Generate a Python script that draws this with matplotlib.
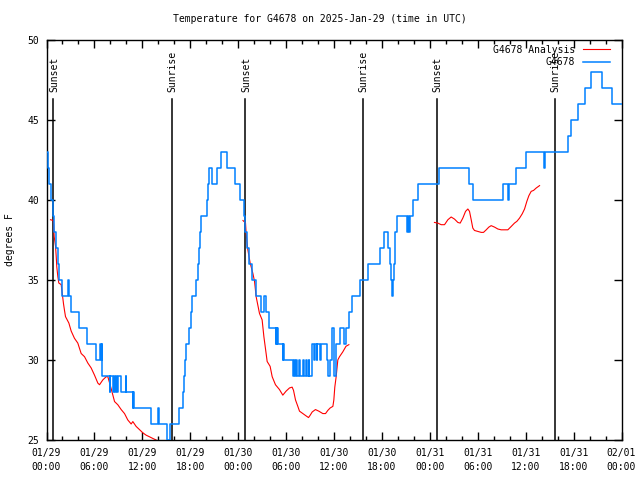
import matplotlib
matplotlib.use("Agg")
import matplotlib.pyplot as plt
from matplotlib.ticker import MultipleLocator

# hours since 2025-01-29 00:00 UTC
obs_hours = [0.0, 0.15, 0.35, 0.6, 0.85, 1.0, 1.2, 1.4, 1.6, 1.95, 2.7, 2.85, 3.1, 4.1, 5.05,
             6.2, 6.75, 6.82, 6.92, 7.0, 7.9, 8.0, 8.3, 8.5, 8.62, 8.72, 8.85, 8.93, 9.35, 9.9,
             10.0, 10.8, 10.88, 10.95, 13.05, 13.9, 14.05, 15.15, 15.45, 16.55, 17.1, 17.2,
             17.36, 17.53, 17.86, 18.07, 18.28, 18.66, 18.95, 19.12, 19.2, 19.37, 20.05, 20.2,
             20.33, 20.78, 21.3, 21.87, 22.55, 23.6, 24.25, 24.7, 24.9, 25.1, 25.3, 25.75, 26.2,
             26.8, 27.25, 27.45, 27.85, 28.7, 28.78, 28.86, 28.92, 29.0, 29.6, 29.65, 29.75,
             30.84, 31.0, 31.08, 31.3, 31.36, 31.62, 31.68, 32.1, 32.3, 32.55, 32.61, 32.85,
             32.91, 33.27, 33.55, 33.61, 33.85, 33.91, 34.3, 34.36, 35.15, 35.3, 35.45, 35.7,
             36.05, 36.2, 36.3, 36.8, 37.3, 37.45, 37.85, 38.3, 39.2, 40.3, 41.75, 42.3, 42.8,
             42.95, 43.1, 43.3, 43.45, 43.5, 43.6, 43.7, 43.85, 45.15, 45.3, 45.4, 45.55, 45.85,
             46.5, 49.2, 52.9, 53.4, 57.2, 57.85, 57.95, 58.75, 60.05, 62.25, 62.45, 65.3, 65.7,
             66.6, 67.4, 68.15, 69.55, 70.8, 72.0]
obs_temps = [43, 42, 41, 40, 39, 38, 37, 36, 35, 34, 35, 34, 33, 32, 31,
             30, 31, 30, 31, 29, 28, 29, 28, 29, 28, 29, 28, 29, 28, 29,
             28, 27, 28, 27, 26, 27, 26, 25, 26, 27, 28, 29,
             30, 31, 32, 33, 34, 35, 36, 37, 38, 39, 40, 41,
             42, 41, 42, 43, 42, 41, 40, 39, 38, 37, 36, 35, 34,
             33, 34, 33, 32, 31, 32, 31, 32, 31, 30, 31, 30,
             29, 30, 29, 30, 29, 30, 29, 30, 29, 30, 29, 30,
             29, 31, 30, 31, 30, 31, 30, 31, 30, 29, 30, 32,
             29, 30, 31, 32, 31, 32, 33, 34, 35, 36, 37, 38, 37,
             36, 35, 34, 35, 36, 37, 38, 39, 38, 39, 38, 39, 40,
             41, 42, 41, 40, 41, 40, 41, 42, 43, 42, 43, 44, 45,
             46, 47, 48, 47, 46, 46]

ana_hours = [
    [0.5, 0.85, 0.9, 0.96, 1.13, 1.21, 1.29, 1.42, 1.54, 1.84, 1.96, 2.13, 2.25, 2.38, 2.8,
     3.09, 3.5, 3.92, 4.34, 4.76, 5.18, 5.59, 6.01, 6.43, 6.64, 7.05, 7.47, 7.68, 8.1, 8.52,
     8.93, 9.35, 9.77, 10.18, 10.6, 10.81, 11.22, 11.64, 12.06, 12.48, 12.9, 13.3, 13.73, 14.0],
    [24.6, 24.92, 25.0, 25.2, 25.5, 25.84, 26.05, 26.25, 26.67, 27.0, 27.22, 27.5, 27.63, 28.0,
     28.26, 28.67, 29.17, 29.59, 30.0, 30.43, 30.76, 30.93, 31.18, 31.47, 31.68, 32.1, 32.52,
     32.81, 33.02, 33.27, 33.68, 34.1, 34.6, 34.94, 35.23, 35.52, 35.86, 35.98, 36.1, 36.27,
     36.48, 36.69, 37.1, 37.5, 37.86],
    [48.58, 49.0, 49.42, 49.84, 50.26, 50.67, 51.09, 51.51, 51.8, 52.13, 52.47, 52.76, 52.97,
     53.18, 53.38, 53.59, 54.01, 54.43, 54.72, 55.06, 55.39, 55.68, 56.1, 56.52, 56.93, 57.77,
     58.19, 58.6, 58.9, 59.23, 59.57, 59.86, 60.15, 60.4, 60.69, 60.99, 61.32, 61.74],
]
ana_temps = [
    [38.75, 38.7, 38.4, 37.7, 37.1, 36.5, 35.8, 35.2, 34.8, 34.7, 34.2, 33.5, 33.1, 32.7, 32.3,
     31.8, 31.35, 31.05, 30.4, 30.2, 29.8, 29.5, 29.05, 28.55, 28.45, 28.75, 28.95, 28.95, 28.2,
     27.4, 27.2, 26.9, 26.65, 26.25, 26.0, 26.15, 25.85, 25.65, 25.45, 25.3, 25.2, 25.1, 25.0,
     24.9],
    [38.7, 38.55, 37.9, 36.9, 36.05, 35.4, 34.9, 33.95, 32.9, 32.5, 31.45, 30.4, 29.9, 29.6,
     28.95, 28.45, 28.15, 27.8, 28.05, 28.25, 28.3, 28.1, 27.5, 27.1, 26.8, 26.65, 26.5, 26.4,
     26.55, 26.75, 26.9, 26.8, 26.65, 26.65, 26.85, 27.0, 27.1, 27.5, 28.3, 28.95, 30.0, 30.2,
     30.5, 30.85, 30.95],
    [38.58, 38.54, 38.44, 38.44, 38.75, 38.92, 38.79, 38.58, 38.54, 38.85, 39.27, 39.42, 39.27,
     38.75, 38.23, 38.08, 38.02, 37.96, 37.96, 38.12, 38.29, 38.38, 38.29, 38.17, 38.12, 38.12,
     38.33, 38.54, 38.65, 38.85, 39.12, 39.42, 39.9, 40.25, 40.52, 40.58, 40.73, 40.88],
]

sun_hours = [0.87, 15.68, 24.85, 39.62, 48.88, 63.65]
sun_labels = ["Sunset", "Sunrise", "Sunset", "Sunrise", "Sunset", "Sunrise"]

xtick_hours = list(range(0, 73, 6))
xtick_labels = ["01/29\n00:00", "01/29\n06:00", "01/29\n12:00", "01/29\n18:00",
                "01/30\n00:00", "01/30\n06:00", "01/30\n12:00", "01/30\n18:00",
                "01/31\n00:00", "01/31\n06:00", "01/31\n12:00", "01/31\n18:00",
                "02/01\n00:00"]

plt.rcParams['font.family'] = ['DejaVu Sans Mono']
plt.rcParams['font.size'] = 7

fig = plt.figure(figsize=(6.4, 4.8), dpi=100)
ax = fig.add_axes([46.5 / 640, 40 / 480, 575 / 640, 400.5 / 480])

# sunrise / sunset markers
for h, lab in zip(sun_hours, sun_labels):
    ax.plot([h, h], [25, 46.3], color='black', lw=1.1, zorder=1)
    ax.text(h + 0.12, 46.7, lab, rotation=90, ha='center', va='bottom', fontsize=7)

for i, (hh, tt) in enumerate(zip(ana_hours, ana_temps)):
    ax.plot(hh, tt, color='#ff0000', lw=0.8, zorder=2,
            label="G4678 Analysis" if i == 0 else None)
ax.plot(obs_hours, obs_temps, color='#0080ff', lw=1.1, drawstyle='steps-post', zorder=3,
        label="G4678")

ax.set_xlim(0, 72)
ax.set_ylim(25, 50)
ax.set_xticks(xtick_hours)
ax.set_xticklabels(xtick_labels, linespacing=1.45)
ax.xaxis.set_minor_locator(MultipleLocator(2))
ax.set_yticks([25, 30, 35, 40, 45, 50])
ax.tick_params(which='both', direction='in', top=True, right=True, width=1)
ax.tick_params(which='major', length=6)
ax.tick_params(which='minor', length=3)
ax.tick_params(axis='x', pad=6)
ax.tick_params(axis='y', pad=5)
for s in ax.spines.values():
    s.set_linewidth(1)

ax.set_ylabel("degrees F")
ax.yaxis.set_label_coords(-0.055, 0.5)
fig.text(0.5, 1 - 19 / 480, "Temperature for G4678 on 2025-Jan-29 (time in UTC)",
         ha='center', va='center', fontsize=7)

ax.legend(loc='upper right', bbox_to_anchor=(1 - 11.5 / 575, 1 - 5 / 400), frameon=False,
          markerfirst=False, handlelength=2.8, handletextpad=0.8, labelspacing=0.3,
          borderpad=0, borderaxespad=0, fontsize=7)

fig.savefig("out.png", dpi=100)
